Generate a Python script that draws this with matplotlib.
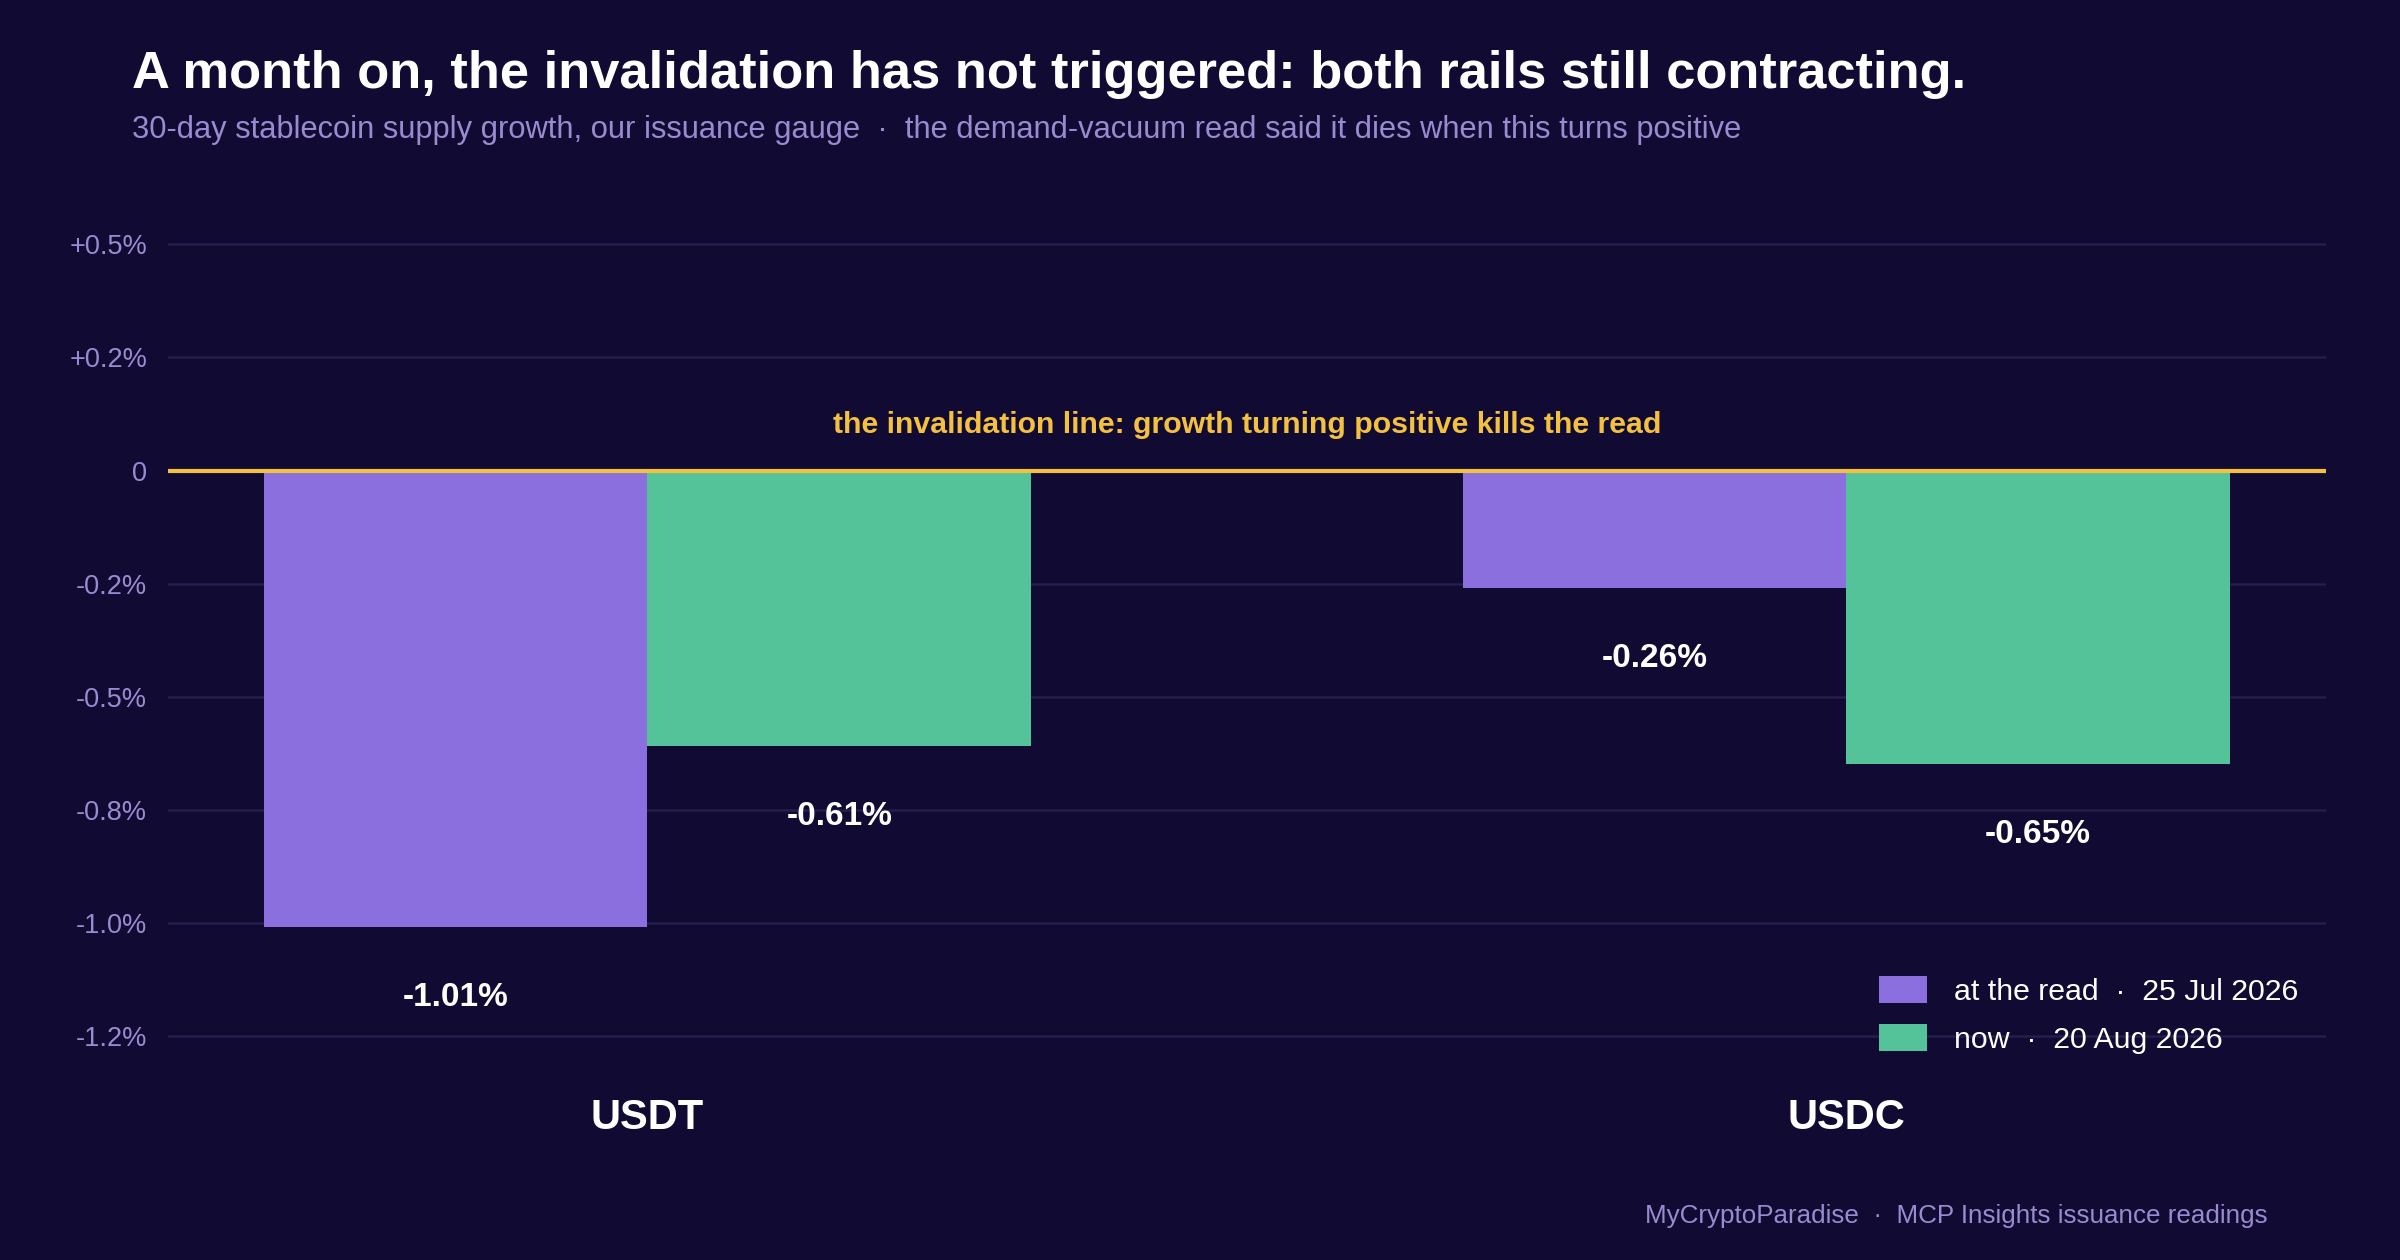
import matplotlib
matplotlib.use("Agg")
import matplotlib.pyplot as plt
import numpy as np

# data
rails = ["USDT", "USDC"]
at_read = [-1.01, -0.26]
now = [-0.61, -0.65]
series_labels = ["at the read  ·  25 Jul 2026", "now  ·  20 Aug 2026"]
yticks = [0.5, 0.25, 0, -0.25, -0.5, -0.75, -1.0, -1.25]

bg = "#110b33"
purple = "#8b6fdf"
green = "#55c39a"
yellow = "#f4c03f"
muted = "#9a8bd0"

plt.rcParams["font.family"] = ["Liberation Sans", "DejaVu Sans"]

fig = plt.figure(figsize=(16, 8.4), dpi=150, facecolor=bg)
ax = fig.add_axes([0.070, 0.142, 0.899, 0.682], facecolor=bg)

x = np.arange(len(rails))
w = 0.32
b1 = ax.bar(x - w / 2, at_read, w, color=purple, label=series_labels[0], zorder=3)
b2 = ax.bar(x + w / 2, now, w, color=green, label=series_labels[1], zorder=3)

for bars, vals in ((b1, at_read), (b2, now)):
    for b, v in zip(bars, vals):
        ax.text(b.get_x() + b.get_width() / 2, v - 0.155, f"{v:.2f}%", ha="center",
                va="center", color="white", fontsize=16, fontweight="bold", zorder=4)

ax.axhline(0, color=yellow, lw=2, zorder=5)
ax.text(0.5, 0.1, "the invalidation line: growth turning positive kills the read",
        ha="center", va="center", color=yellow, fontsize=14.5, fontweight="bold")

ax.set_xlim(-0.40, 1.40)
ax.set_ylim(-1.35, 0.55)
ax.set_yticks(yticks)
ax.set_yticklabels(["0" if t == 0 else f"{t:+.1f}%" for t in yticks])
ax.set_xticks(x)
ax.set_xticklabels(rails, fontsize=20, fontweight="bold", color="white")
ax.tick_params(axis="y", colors=muted, labelsize=13, length=0, pad=10)
ax.tick_params(axis="x", length=0, pad=8)
ax.grid(axis="y", color="#241d4d", lw=1.2, zorder=0)
for s in ax.spines.values():
    s.set_visible(False)

leg = ax.legend(loc="lower right", frameon=False, fontsize=14.5, labelcolor="white",
                handlelength=1.6, handleheight=1.0, labelspacing=0.6, handletextpad=0.9,
                bbox_to_anchor=(1.0, 0.0))

fig.text(0.055, 0.941, "A month on, the invalidation has not triggered: both rails still contracting.",
         color="white", fontsize=25.2, fontweight="bold", va="center")
fig.text(0.055, 0.897, "30-day stablecoin supply growth, our issuance gauge  ·  the demand-vacuum read said it dies when this turns positive",
         color=muted, fontsize=14.8, va="center")
fig.text(0.945, 0.035, "MyCryptoParadise  ·  MCP Insights issuance readings",
         color=muted, fontsize=12.5, ha="right", va="center")

fig.savefig("out.png", dpi=150, facecolor=bg)
